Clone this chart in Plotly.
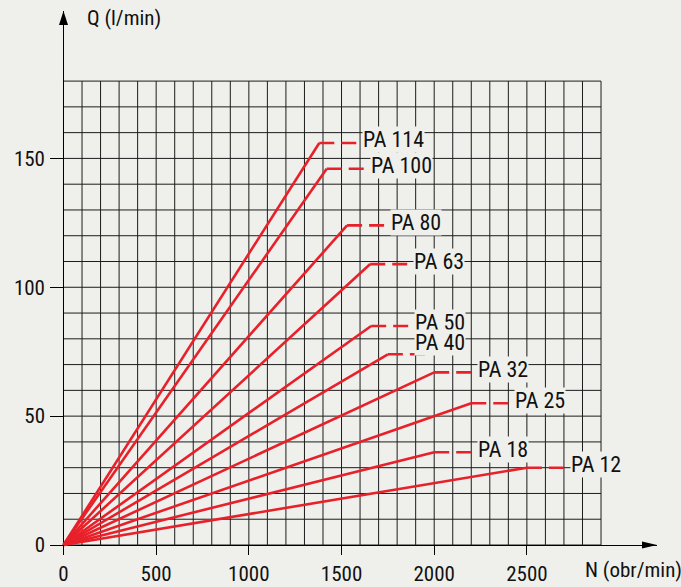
import plotly.graph_objects as go

# ---- data ----
pump_labels = ["PA 114", "PA 100", "PA 80", "PA 63", "PA 50", "PA 40", "PA 32", "PA 25", "PA 18", "PA 12"]
max_speed = [1380, 1420, 1530, 1655, 1660, 1750, 2000, 2200, 2000, 2500]   # N (obr/min)
max_flow = [156, 146, 124, 109, 85, 74, 67, 55, 36, 30]                     # Q (l/min)
x_tick_vals = [0, 500, 1000, 1500, 2000, 2500]
y_tick_vals = [0, 50, 100, 150]

# ---- style ----
BG = "#eff0ec"
RED = "#e8202a"
GRID = "#1c1c1c"
FONT = "Liberation Sans Narrow, Arial Narrow, Roboto Condensed, Liberation Sans, sans-serif"
DASH_LEN = 210          # length of the dashed continuation, in rpm
GRID_X_MAX, GRID_Y_MAX = 2900, 180

fig = go.Figure()

for lab, n, q in zip(pump_labels, max_speed, max_flow):
    fig.add_trace(go.Scatter(x=[0, n], y=[0, q], mode="lines",
                             line=dict(color=RED, width=2.6), showlegend=False,
                             hoverinfo="skip", cliponaxis=False))
    fig.add_trace(go.Scatter(x=[n, n + DASH_LEN], y=[q, q], mode="lines",
                             line=dict(color=RED, width=2.6, dash="15px,7px"),
                             showlegend=False, hoverinfo="skip"))
    special = lab == "PA 40"
    fig.add_annotation(x=n + DASH_LEN, y=q, text=lab, showarrow=False,
                       xanchor="left", yanchor="middle",
                       xshift=-13 if special else 4, yshift=12 if special else 3,
                       font=dict(family=FONT, size=22, color="#111"),
                       bgcolor=BG, borderpad=0)

shapes = []
for gx in range(0, GRID_X_MAX + 1, 100):
    shapes.append(dict(type="line", xref="x", yref="y", x0=gx, x1=gx, y0=0, y1=GRID_Y_MAX,
                       line=dict(color=GRID, width=1), layer="below"))
for gy in range(0, GRID_Y_MAX + 1, 10):
    shapes.append(dict(type="line", xref="x", yref="y", x0=0, x1=GRID_X_MAX, y0=gy, y1=gy,
                       line=dict(color=GRID, width=1), layer="below"))

# arrowheads (pixel sizes converted to data units)
XPX = 0.18534   # px per rpm
YPX = 2.5778    # px per l/min
X_TIP, Y_TIP = 3202, 207.2
shapes.append(dict(type="path", xref="x", yref="y",
                   path=f"M {X_TIP} 0 L {X_TIP - 15 / XPX} {3.5 / YPX} L {X_TIP - 15 / XPX} {-3.5 / YPX} Z",
                   fillcolor="#000", line=dict(width=0)))
shapes.append(dict(type="path", xref="x", yref="y",
                   path=f"M 0 {Y_TIP} L {-4.5 / XPX} {Y_TIP - 14 / YPX} L {4.5 / XPX} {Y_TIP - 14 / YPX} Z",
                   fillcolor="#000", line=dict(width=0)))

fig.add_annotation(x=116, y=204.4, xref="x", yref="y", text="Q (l/min)", showarrow=False,
                   xanchor="left", yanchor="middle", font=dict(family=FONT, size=21, color="#111"))
fig.add_annotation(x=2819, y=0, xref="x", yref="paper", yshift=-15, xshift=-3, text="N (obr/min)",
                   showarrow=False, xanchor="left", yanchor="middle",
                   font=dict(family=FONT, size=21, color="#111"))

fig.update_layout(
    width=681, height=587,
    margin=dict(l=50, r=24, t=11, b=32, autoexpand=False),
    paper_bgcolor=BG, plot_bgcolor=BG,
    shapes=shapes,
    font=dict(family=FONT, size=21, color="#111"),
    xaxis=dict(range=[-72.8, X_TIP], showgrid=False, zeroline=True, zerolinecolor="#000",
               zerolinewidth=1.2, showline=False, tickvals=x_tick_vals,
               ticks="inside", ticklen=10, tickcolor="#000", tickwidth=1.2,
               ticklabelstandoff=4, fixedrange=True),
    yaxis=dict(range=[-3.88, Y_TIP], showgrid=False, zeroline=True, zerolinecolor="#000",
               zerolinewidth=1.2, showline=False, tickvals=y_tick_vals,
               ticks="inside", ticklen=13, tickcolor="#000", tickwidth=1.2,
               ticklabelstandoff=4, fixedrange=True),
)

fig.write_html("out.html", config={"displayModeBar": False},
               post_script="document.body.style.margin='0';document.body.style.background='#eff0ec';")
